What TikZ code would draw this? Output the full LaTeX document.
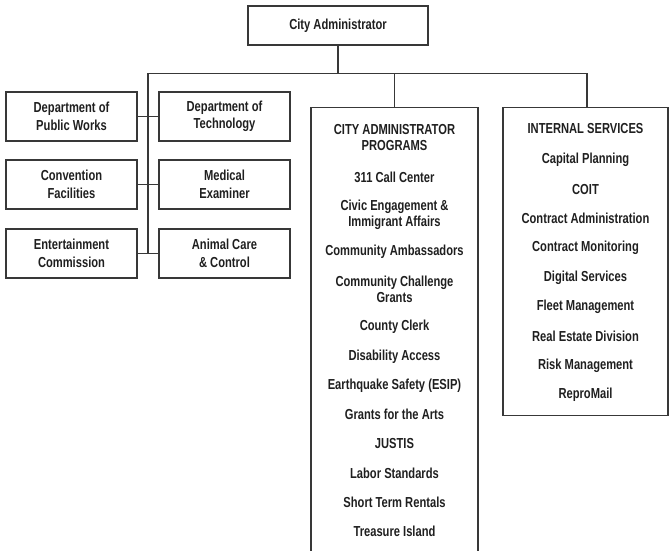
\documentclass[tikz,border=0pt]{standalone}
\usepackage{fontspec}
\setmainfont{Liberation Sans}[FakeStretch=0.77]
\usetikzlibrary{positioning}

\begin{document}
\begin{tikzpicture}[x=1pt, y=-1pt,
    line/.style={draw=black!78, line width=1.3pt},
    unit/.style={line, minimum width=131pt, minimum height=49pt, inner sep=0pt,
        align=center, text=black!88, font=\bfseries\fontsize{14.5}{17.5}\selectfont},
    frame/.style={line, anchor=north, inner sep=0pt},
    item/.style={inner sep=0pt, align=center, text=black!88,
        font=\bfseries\fontsize{14.5}{16}\selectfont}]
    \clip (0,0) rectangle (670,550);

    % --- City Administrator ---
    \node[unit, minimum width=180pt, minimum height=39pt] (ca) at (338,25.5) {City Administrator};

    % --- Departments (two columns) ---
    \node[unit] (dpw) at (71.5,116.5) {Department of\\Public Works};
    \node[unit] (dt) at (224.5,116.5) {Department of\\Technology};
    \node[unit] (cf) at (71.5,184.5) {Convention\\Facilities};
    \node[unit] (me) at (224.5,184.5) {Medical\\Examiner};
    \node[unit] (ec) at (71.5,253.5) {Entertainment\\Commission};
    \node[unit] (acc) at (224.5,253.5) {Animal Care\\\& Control};

    % --- Program and service frames ---
    \node[frame, minimum width=167pt, minimum height=470pt] (progs) at (394.5,107) {};
    \node[frame, minimum width=165pt, minimum height=308pt] (isvc) at (585.5,107) {};

    % Connectors
    \coordinate (busL) at (148,73.5);
    \coordinate (busR) at (587,73.5);
    \draw[line] (ca.south) -- (ca.south |- busL);
    \draw[line] (busL |- acc.west) -- (busL) -- (busR) -- (busR |- isvc.north);
    \draw[line] (busL -| progs.north) -- (progs.north);
    \draw[line] (dpw.east) -- (dt.west);
    \draw[line] (cf.east) -- (me.west);
    \draw[line] (ec.east) -- (acc.west);

    % --- City Administrator Programs ---
    \node[item] (prhead) at (394.5,138) {CITY ADMINISTRATOR\\PROGRAMS};
    \foreach \y/\t [count=\i] in {177/311 Call Center,
        215/{Civic Engagement \&\\Immigrant Affairs},
        252/Community Ambassadors,
        289.5/{Community Challenge\\Grants},
        327/County Clerk, 357/Disability Access,
        386/Earthquake Safety (ESIP), 414/Grants for the Arts,
        443/JUSTIS, 473/Labor Standards,
        502/Short Term Rentals, 531/Treasure Island}
        \node[item] (pr\i) at (394.5,\y) {\t};

    % --- Internal Services ---
    \node[item] (ishead) at (585.5,129) {INTERNAL SERVICES};
    \foreach \t [count=\i from 0] in {Capital Planning, COIT,
        Contract Administration, Contract Monitoring, Digital Services,
        Fleet Management, Real Estate Division, Risk Management, ReproMail}
        \node[item] (is\i) at (585.5,160+29.4*\i) {\t};
\end{tikzpicture}
\end{document}
